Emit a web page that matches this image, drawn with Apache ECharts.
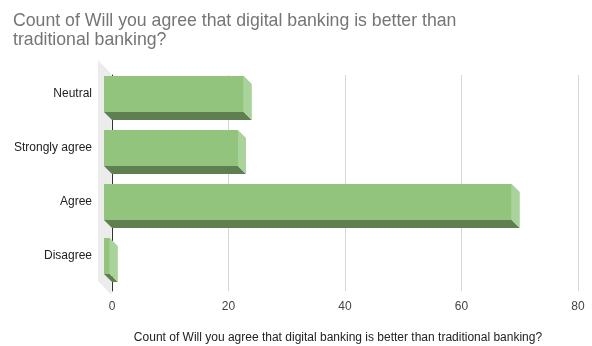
<!DOCTYPE html>
<html>
<head>
<meta charset="utf-8">
<script src="https://cdn.jsdelivr.net/npm/echarts@6/dist/echarts.min.js"></script>
<style>
  html, body { margin: 0; padding: 0; background: #fff; }
  #chart { width: 592px; height: 346px; }
</style>
</head>
<body>
<div id="chart"></div>
<script>
// chart data
var categories = ['Neutral', 'Strongly agree', 'Agree', 'Disagree'];
var counts = [24, 23, 70, 1];
var xTicks = [0, 20, 40, 60, 80];

var titleText = 'Count of Will you agree that digital banking is better than\ntraditional banking?';
var axisTitle = 'Count of Will you agree that digital banking is better than traditional banking?';

var depth = 8; // fake 3d offset

var chart = echarts.init(document.getElementById('chart'));

function renderBar(params, api) {
	var cs = params.coordSys;
	var children = [];

	// grey side wall on the left, drawn once
	if (params.dataIndex === 0) {
		children.push({
			type: 'polygon',
			shape: { points: [
				[cs.x - 14, cs.y - 15],
				[cs.x - 0.5, cs.y - 1],
				[cs.x - 0.5, cs.y + cs.height + 4],
				[cs.x - 14, cs.y + cs.height - 10]
			] },
			style: { fill: '#ececec' },
			z2: 0
		});
	}

	var v = api.value(0);
	var c = api.value(1);
	var p0 = api.coord([0, c]);
	var p1 = api.coord([v, c]);
	var band = api.size([0, 1])[1];
	var h = band * 0.667;

	var x0 = p0[0] - depth, x1 = p1[0] - depth;
	var yTop = p0[1] - depth - h / 2, yBot = yTop + h;

	// bottom face
	children.push({
		type: 'polygon',
		shape: { points: [[x0, yBot], [x1, yBot], [x1 + depth, yBot + depth], [x0 + depth, yBot + depth]] },
		style: { fill: '#5f7f50' },
		z2: 1
	});
	// right side face
	children.push({
		type: 'polygon',
		shape: { points: [[x1, yTop], [x1 + depth, yTop + depth], [x1 + depth, yBot + depth], [x1, yBot]] },
		style: { fill: '#a9d39a' },
		z2: 1
	});
	// front face
	children.push({
		type: 'rect',
		shape: { x: x0, y: yTop, width: x1 - x0, height: h },
		style: { fill: '#93c47d' },
		z2: 2
	});

	return { type: 'group', children: children };
}

var seriesData = [];
for (var i = 0; i < categories.length; i++) {
	seriesData.push([counts[i], i]);
}

var option = {
	animation: false,
	textStyle: { fontFamily: 'Arial, "Liberation Sans", sans-serif' },
	title: {
		text: titleText,
		left: 13,
		top: 12,
		padding: 0,
		textStyle: {
			fontSize: 17.7,
			fontWeight: 'normal',
			color: '#757575',
			lineHeight: 19
		}
	},
	grid: {
		left: 112,
		top: 75,
		width: 466,
		height: 216,
		containLabel: false,
		outerBoundsMode: 'none'
	},
	xAxis: {
		type: 'value',
		min: xTicks[0],
		max: xTicks[xTicks.length - 1],
		interval: 20,
		name: axisTitle,
		nameLocation: 'middle',
		nameGap: 41,
		nameTextStyle: { fontSize: 12, color: '#222', padding: [0, 14, 0, 0] },
		axisLine: { show: false },
		axisTick: { show: false },
		axisLabel: { fontSize: 12, color: '#444', margin: 10 },
		splitLine: { lineStyle: { color: '#d6d6d6', width: 1 } }
	},
	yAxis: {
		type: 'category',
		data: categories,
		inverse: true,
		axisLine: { lineStyle: { color: '#333', width: 1 } },
		axisTick: { show: false },
		axisLabel: {
			fontSize: 12,
			color: '#222',
			margin: 20,
			verticalAlign: 'bottom',
			lineHeight: 16
		}
	},
	series: [{
		type: 'custom',
		renderItem: renderBar,
		encode: { x: 0, y: 1 },
		data: seriesData
	}]
};

chart.setOption(option);
</script>
</body>
</html>
